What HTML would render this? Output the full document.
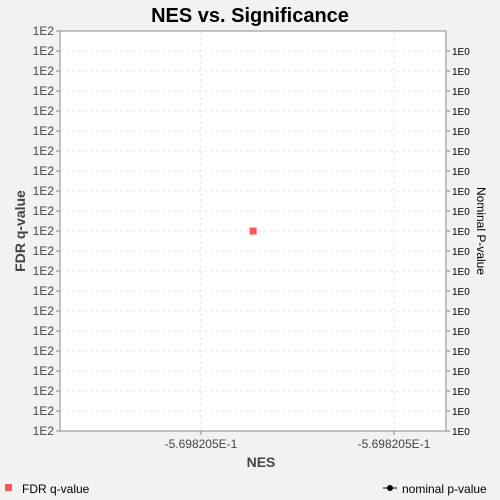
<!DOCTYPE html>
<html><head><meta charset="utf-8"><style>
body{margin:0;background:#f2f2f2;}
svg{display:block;font-family:"Liberation Sans","DejaVu Sans",sans-serif;}
</style></head><body>
<svg id="c" width="500" height="500" xmlns="http://www.w3.org/2000/svg">
<rect width="500" height="500" fill="#f2f2f2"/>
<text x="250" y="22" text-anchor="middle" font-size="20" font-weight="bold" fill="#000">NES vs. Significance</text>
<rect x="60" y="31" width="386" height="400" fill="#fff" stroke="#888"/>
<g id="grid"></g>
<g id="ly"></g>
<g id="ry"></g>
<g id="xa"></g>
<g id="marks"></g>
<text x="261" y="467" text-anchor="middle" font-size="14" font-weight="bold" fill="#444">NES</text>
<text transform="translate(25,231) rotate(-90)" text-anchor="middle" font-size="14" font-weight="bold" fill="#444">FDR q-value</text>
<text transform="translate(477,231) rotate(90)" text-anchor="middle" font-size="12" fill="#000">Nominal P-value</text>
<g><rect x="5" y="484" width="7" height="7" fill="#f55"/><text x="22" y="493" font-size="12" fill="#000">FDR q-value</text></g>
<g><line x1="383" y1="488" x2="397" y2="488" stroke="#000"/><circle cx="390" cy="488" r="3" fill="#000"/><text x="402" y="493" font-size="12" fill="#000">nominal p-value</text></g>
</svg>
<script>
const leftTicks=["1E2","1E2","1E2","1E2","1E2","1E2","1E2","1E2","1E2","1E2","1E2","1E2","1E2","1E2","1E2","1E2","1E2","1E2","1E2","1E2","1E2"];
const rightTicks=["1E0","1E0","1E0","1E0","1E0","1E0","1E0","1E0","1E0","1E0","1E0","1E0","1E0","1E0","1E0","1E0","1E0","1E0","1E0","1E0"];
const xTickValues=[-0.5698206,-0.5698204];
const xTickLabels=["-5.698205E-1","-5.698205E-1"];
const fdrNes=[-0.569820546];
const fdrQ=[100];
const NS="http://www.w3.org/2000/svg";
const L=60,R=446,T=31,B=431;
const xMin=-0.5698207461,xMax=-0.5698203461;
const yMin=0,yMax=200;
function sx(v){return L+(v-xMin)/(xMax-xMin)*(R-L);}
function sy(v){return B-(v-yMin)/(yMax-yMin)*(B-T);}
function mk(tag,attrs,parent){const e=document.createElementNS(NS,tag);for(const k in attrs)e.setAttribute(k,attrs[k]);parent.appendChild(e);return e;}
const grid=document.getElementById('grid'),ly=document.getElementById('ly'),ry=document.getElementById('ry'),xa=document.getElementById('xa'),marks=document.getElementById('marks');
leftTicks.forEach((t,i)=>{
  const y=T+i*(B-T)/(leftTicks.length-1);
  if(i>0&&i<leftTicks.length-1){const g=mk('line',{x1:L,x2:R,y1:y,y2:y,stroke:'#e6e6e6','stroke-dasharray':'3,3'},grid);
  
  }
  const tk=mk('line',{x1:L-4,x2:L,y1:y,y2:y,stroke:'#888'},ly);
  
  
  const tx=mk('text',{x:L-6,y:y+4,'text-anchor':'end','font-size':'12',fill:'#444'},ly);tx.textContent=t;
  
  
});
rightTicks.forEach((t,i)=>{
  const y=T+20+i*(B-T-20)/(rightTicks.length-1);
  const tk=mk('line',{x1:R,x2:R+4,y1:y,y2:y,stroke:'#888'},ry);
  
  
  const tx=mk('text',{x:R+6,y:y+4,'font-size':'10',fill:'#000'},ry);tx.textContent=t;
  
  
});
xTickValues.forEach((v,i)=>{
  const x=sx(v);
  const g=mk('line',{x1:x,x2:x,y1:T,y2:B,stroke:'#e6e6e6','stroke-dasharray':'3,3'},grid);
  
  
  const tk=mk('line',{x1:x,x2:x,y1:B,y2:B+4,stroke:'#888'},xa);
  
  
  const tx=mk('text',{x:x,y:B+17,'text-anchor':'middle','font-size':'12',fill:'#444'},xa);tx.textContent=xTickLabels[i];
  
  
});
fdrNes.forEach((v,i)=>{
  const p=mk('rect',{x:sx(v)-3.5,y:sy(fdrQ[i])-3.5,width:7,height:7,fill:'#f55'},marks);
  
  
});
</script>
</body></html>
